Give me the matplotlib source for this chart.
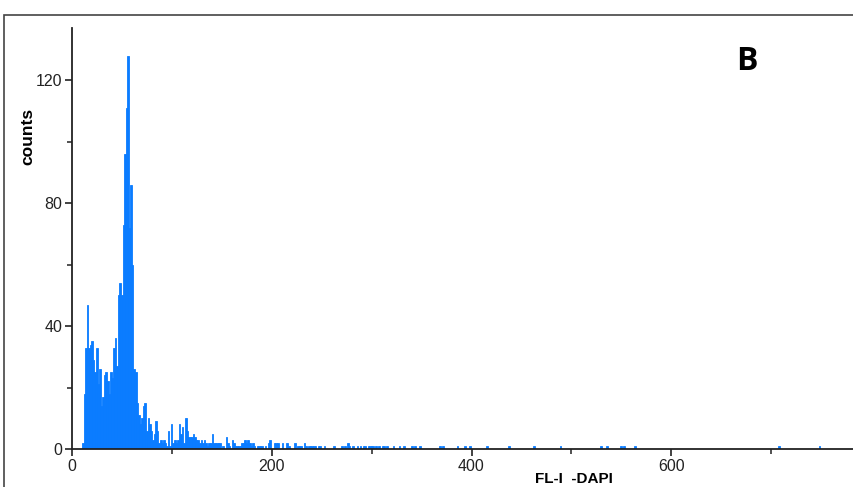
import matplotlib
matplotlib.use("Agg")
import matplotlib.pyplot as plt
import matplotlib.patches as patches
import numpy as np

plt.rcParams['font.family'] = ['Liberation Sans', 'DejaVu Sans']

# histogram channel grid (FL-1 DAPI), bin width
bin_width = 1.5625
first_edge = 10.0
last_edge = 800.0

# counts per bin, contiguous from first_edge
dense_counts = [
    2, 18, 33, 47, 33, 34, 35, 29, 25, 33, 21, 26, 14, 17, 24, 25, 22, 18, 25, 23,
    33, 36, 27, 50, 54, 50, 73, 96, 111, 128, 72, 86, 60, 26, 25, 15, 11, 8, 10, 14,
    15, 6, 10, 8, 6, 3, 5, 9, 6, 2, 3, 2, 3, 2, 1, 6,
    1, 8, 2, 3, 2, 3, 8, 5, 7, 2, 10, 6, 4, 4, 4, 5,
    4, 3, 3, 2, 3, 2, 3, 2, 1, 2, 2, 5, 2, 2, 2, 2, 2, 0, 1, 0,
    4, 2, 1, 0, 3, 2, 1, 1, 1, 1, 2, 2, 3, 2, 3, 2, 1, 2, 1, 0,
    1, 1, 1, 1, 0, 1, 0, 2, 3,
]

# sparse tail: channel value and count
tail_values = [203, 204.5, 206, 210, 215.5, 216.5, 223, 226, 227.5, 230, 232, 233.5,
               237, 238.5, 240, 241.5, 243, 246, 249, 253, 262, 270, 273, 277, 278.5,
               281, 285, 289, 292, 294, 296, 298, 299.5, 301, 305, 307, 310, 312, 315,
               322, 328, 332, 341, 344, 348, 369, 371, 385, 386.5, 394, 399, 415, 438,
               462, 489, 530, 536, 550, 553, 564, 708, 748]
tail_counts = [2, 2, 2, 2, 2, 1, 2, 1, 1, 1, 2, 1,
               1, 1, 1, 1, 1, 1, 1, 1, 1, 1, 1, 2, 1,
               1, 1, 1, 1, 1, 1, 1, 1, 1, 1, 1, 1, 1, 1,
               1, 1, 1, 1, 1, 1, 1, 1, 1, 1, 1, 1, 1, 1,
               1, 1, 1, 1, 1, 1, 1, 1, 1]

n_bins = int(round((last_edge - first_edge) / bin_width))
lefts = first_edge + bin_width * np.arange(n_bins)
counts = np.zeros(n_bins)
counts[:len(dense_counts)] = dense_counts
for v, c in zip(tail_values, tail_counts):
    counts[int((v - first_edge) // bin_width)] = c

fig = plt.figure(figsize=(8.54, 4.87), dpi=100)
W, H = 854, 487
# axes: x=0 at px 72, y=0 at px 449, top of y axis at px 28, 800 runs off the right edge
ax = fig.add_axes([72 / W, 1 - 449 / H, 799 / W, (449 - 28) / H])

blue = '#0a7cff'
nz = counts > 0
ax.bar(lefts[nz], counts[nz], width=bin_width, align='edge', color=blue,
       edgecolor=blue, linewidth=0.6)

ax.set_xlim(0, 800)
ax.set_ylim(0, 137)
ax.set_xticks([0, 200, 400, 600])
ax.set_xticks([100, 300, 500, 700], minor=True)
ax.set_yticks([0, 40, 80, 120])
ax.set_yticks([20, 60, 100], minor=True)

for s in ['top', 'right']:
    ax.spines[s].set_visible(False)
for s in ['left', 'bottom']:
    ax.spines[s].set_linewidth(1.3)
    ax.spines[s].set_color('#222222')

ax.tick_params(which='major', direction='out', length=5, width=1.2, color='#222222',
               labelsize=11.5, labelcolor='#222222', pad=2)
ax.tick_params(which='minor', direction='out', length=3.5, width=1.1, color='#222222')

fig.text(28 / W, 1 - 136 / H, 'counts', rotation=90, ha='center', va='center',
         fontsize=12.5, fontweight='bold')
fig.text(574 / W, 1 - 472 / H, 'FL-I  -DAPI', ha='center', va='top',
         fontsize=11, fontweight='bold')
fig.text(747 / W, 1 - 62 / H, 'B', ha='center', va='center',
         fontsize=23, fontweight='bold', family=['Open Sans', 'DejaVu Sans'])

# outer panel frame, cut by the image edge
frame = patches.Rectangle((4 / W, -0.2), 2.0, 1.2 - 15 / H, transform=fig.transFigure,
                          fill=False, edgecolor='#444444', linewidth=1.2, clip_on=False)
fig.add_artist(frame)

fig.savefig('out.png', dpi=100)
